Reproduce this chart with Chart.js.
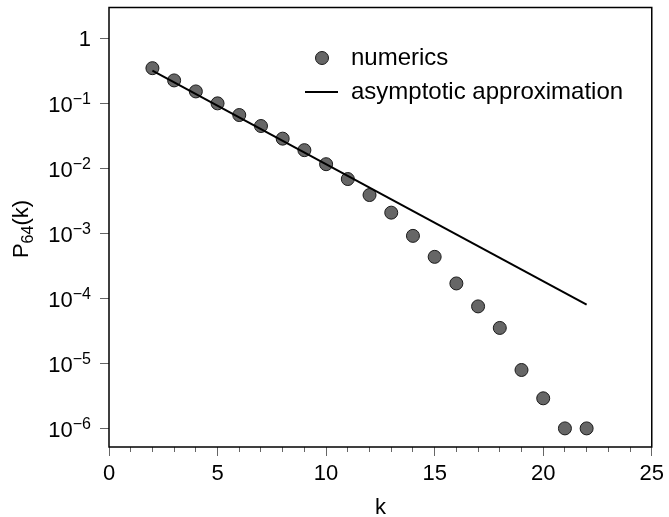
<!DOCTYPE html>
<html>
<head>
<meta charset="utf-8">
<script src="https://cdn.jsdelivr.net/npm/chart.js@4/dist/chart.umd.min.js"></script>
<style>
    html, body { margin: 0; padding: 0; background: #fff; }
    canvas { display: block; }
</style>
</head>
<body>
<canvas id="probChart" width="669" height="517"></canvas>
<script>
const kValues = [2, 3, 4, 5, 6, 7, 8, 9, 10, 11, 12, 13, 14, 15, 16, 17, 18, 19, 20, 21, 22];
const numerics = [0.344, 0.223, 0.151, 0.099, 0.0655, 0.0444, 0.0284, 0.0189, 0.0115, 0.0068,
    0.00386, 0.00207, 9.1e-4, 4.33e-4, 1.69e-4, 7.5e-5, 3.5e-5, 7.9e-6, 2.9e-6, 1e-6, 1e-6];
const approxK = [2, 22];
const approxP = [0.316, 8.0e-5];
const yTickExponents = [0, -1, -2, -3, -4, -5, -6];
const legendLabels = ['numerics', 'asymptotic approximation'];

const FONT = '"Liberation Sans", Arial, Helvetica, sans-serif';
const POINT_FILL = '#666666';
const POINT_EDGE = '#1a1a1a';
const TICK_GREY = '#666666';

// frame, y tick labels with superscripts, axis titles and legend
const decorations = {
    id: 'decorations',
    afterDraw(chart) {
        const ctx = chart.ctx;
        const area = chart.chartArea;
        const yScale = chart.scales.y;

        ctx.save();
        ctx.strokeStyle = '#000';
        ctx.lineWidth = 1.5;
        ctx.strokeRect(area.left, area.top, area.right - area.left, area.bottom - area.top);

        // y tick labels
        ctx.fillStyle = '#000';
        ctx.textBaseline = 'alphabetic';
        const labelRight = area.left - 18;
        yTickExponents.forEach(e => {
            const y = yScale.getPixelForValue(Math.pow(10, e));
            if (e === 0) {
                ctx.font = `22px ${FONT}`;
                ctx.textAlign = 'right';
                ctx.fillText('1', labelRight, y + 8);
                return;
            }
            const sup = '\u2212' + Math.abs(e);
            ctx.font = `16px ${FONT}`;
            const supW = ctx.measureText(sup).width;
            ctx.textAlign = 'right';
            ctx.fillText(sup, labelRight, y + 0.5);
            ctx.font = `22px ${FONT}`;
            ctx.fillText('10', labelRight - supW, y + 8.5);
        });

        // x title
        ctx.font = `22px ${FONT}`;
        ctx.textAlign = 'center';
        ctx.fillText('k', (area.left + area.right) / 2, 514);

        // y title P_64(k)
        ctx.save();
        ctx.translate(28, 229);
        ctx.rotate(-Math.PI / 2);
        ctx.textAlign = 'left';
        ctx.font = `22px ${FONT}`;
        const wP = ctx.measureText('P').width;
        const wK = ctx.measureText('(k)').width;
        ctx.font = `16px ${FONT}`;
        const wSub = ctx.measureText('64').width;
        let x = -(wP + wSub + wK) / 2;
        ctx.font = `22px ${FONT}`;
        ctx.fillText('P', x, 0);
        x += wP;
        ctx.font = `16px ${FONT}`;
        ctx.fillText('64', x, 5);
        x += wSub;
        ctx.font = `22px ${FONT}`;
        ctx.fillText('(k)', x, 0);
        ctx.restore();

        // legend
        ctx.beginPath();
        ctx.arc(322, 58, 6.5, 0, Math.PI * 2);
        ctx.fillStyle = POINT_FILL;
        ctx.fill();
        ctx.lineWidth = 1;
        ctx.strokeStyle = POINT_EDGE;
        ctx.stroke();

        ctx.beginPath();
        ctx.moveTo(305, 92);
        ctx.lineTo(338, 92);
        ctx.lineWidth = 2;
        ctx.strokeStyle = '#000';
        ctx.stroke();

        ctx.fillStyle = '#000';
        ctx.font = `24px ${FONT}`;
        ctx.textAlign = 'left';
        ctx.fillText(legendLabels[0], 351, 65);
        ctx.fillText(legendLabels[1], 351, 99);
        ctx.restore();
    }
};

const ctx = document.getElementById('probChart').getContext('2d');
new Chart(ctx, {
    type: 'scatter',
    data: {
        datasets: [
            {
                label: legendLabels[1],
                data: approxK.map((k, i) => ({ x: k, y: approxP[i] })),
                showLine: true,
                borderColor: '#000',
                borderWidth: 2,
                pointRadius: 0,
                order: 0
            },
            {
                label: legendLabels[0],
                data: kValues.map((k, i) => ({ x: k, y: numerics[i] })),
                showLine: false,
                backgroundColor: POINT_FILL,
                borderColor: POINT_EDGE,
                borderWidth: 1,
                pointRadius: 6.5,
                order: 1
            }
        ]
    },
    options: {
        responsive: false,
        animation: false,
        layout: { padding: { top: 5, right: 16, left: 0, bottom: 0 } },
        plugins: {
            legend: { display: false },
            tooltip: { enabled: false }
        },
        scales: {
            x: {
                type: 'linear',
                position: 'bottom',
                weight: 1,
                min: 0,
                max: 25,
                border: { display: false },
                grid: { drawOnChartArea: false, tickLength: 9, color: TICK_GREY, lineWidth: 1 },
                ticks: {
                    stepSize: 5,
                    color: '#000',
                    padding: 5,
                    maxRotation: 0,
                    font: { family: FONT, size: 22 }
                },
                afterFit: scale => { scale.height = 70; }
            },
            xMinor: {
                type: 'linear',
                position: 'bottom',
                weight: 0,
                min: 0,
                max: 25,
                border: { display: false },
                grid: { drawOnChartArea: false, tickLength: 5, color: TICK_GREY, lineWidth: 1 },
                ticks: { stepSize: 1, display: false },
                afterFit: scale => { scale.height = 0; }
            },
            y: {
                type: 'logarithmic',
                position: 'left',
                min: Math.pow(10, -6.286),
                max: Math.pow(10, 0.469),
                border: { display: false },
                grid: { drawOnChartArea: false, tickLength: 9, color: TICK_GREY, lineWidth: 1 },
                ticks: { display: false },
                afterBuildTicks: scale => {
                    scale.ticks = yTickExponents.map(e => ({ value: Math.pow(10, e) }));
                },
                afterFit: scale => { scale.width = 109; }
            }
        }
    },
    plugins: [decorations]
});
</script>
</body>
</html>
